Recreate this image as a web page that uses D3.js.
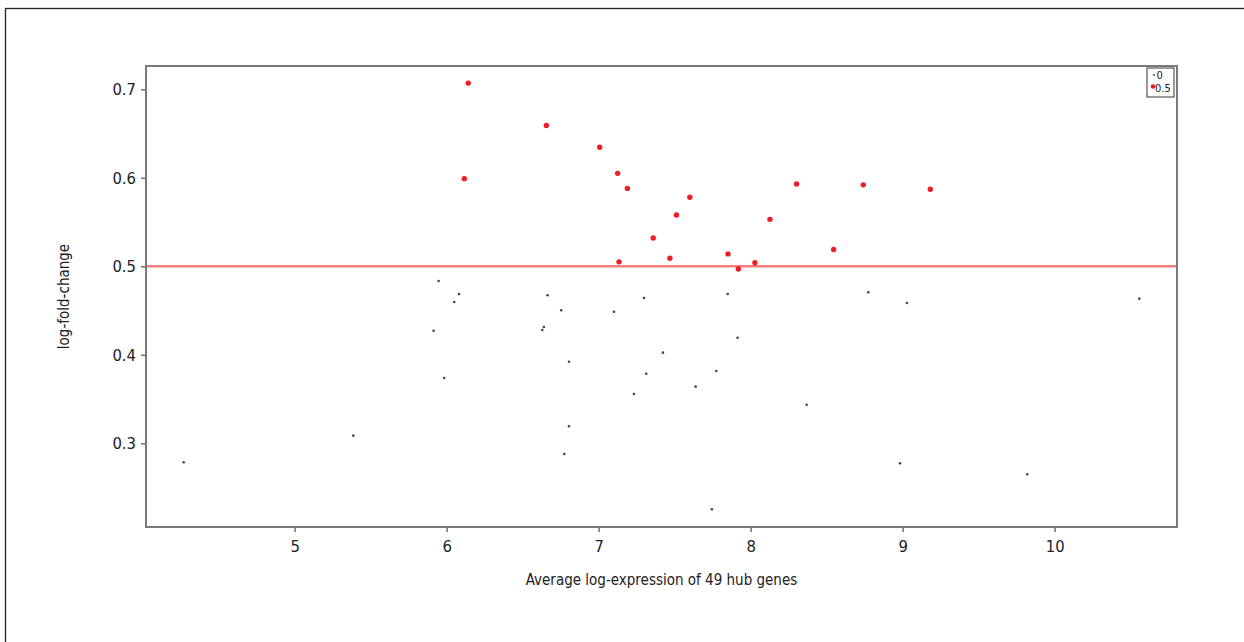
<!DOCTYPE html>
<html>
<head>
<meta charset="utf-8">
<script src="https://cdn.jsdelivr.net/npm/d3@7/dist/d3.min.js"></script>
<style>
html,body{margin:0;padding:0;background:#fff;}
svg{display:block;}
text{font-family:"Liberation Sans Narrow","DejaVu Sans Condensed","Liberation Sans",sans-serif;fill:#222;}
</style>
</head>
<body>
<svg id="chart" width="1244" height="642"></svg>
<script>
// Genes above threshold (group 0.5)
const redX = [6.142,6.656,7.007,6.116,7.125,7.189,7.600,7.512,7.359,7.469,7.134,7.851,7.919,8.028,8.127,8.302,8.546,8.741,9.182];
const redY = [0.707,0.659,0.6345,0.599,0.605,0.588,0.578,0.558,0.532,0.509,0.505,0.514,0.497,0.504,0.553,0.593,0.519,0.592,0.587];
// Genes below threshold (group 0)
const grayX = [4.270,5.386,5.947,5.914,5.984,6.050,6.081,6.629,6.640,6.664,6.754,6.805,6.805,6.774,7.101,7.298,7.313,7.232,7.423,7.638,7.774,7.745,7.849,7.914,8.368,8.774,9.028,8.982,9.820,10.557];
const grayY = [0.2785,0.3086,0.4834,0.4272,0.3738,0.4597,0.4687,0.4280,0.4314,0.4672,0.4503,0.3922,0.3192,0.2879,0.4487,0.4642,0.3786,0.3557,0.4024,0.3640,0.3817,0.2254,0.4687,0.4193,0.3436,0.4706,0.4585,0.2774,0.2650,0.4634];
const xTicks = [5,6,7,8,9,10];
const yTicks = [0.3,0.4,0.5,0.6,0.7];
const threshold = 0.5;
const legendLabels = ["0","0.5"];
const xLabel = "Average log-expression of 49 hub genes";
const yLabel = "log-fold-change";

const svg = d3.select("#chart");
const L = 146, R = 1177, T = 66, B = 527;
const x = d3.scaleLinear().domain([4.022,10.805]).range([L,R]);
const y = d3.scaleLinear().domain([0.2054,0.7263]).range([B,T]);

// outer frame
svg.append("rect").attr("x",5.5).attr("y",8.5).attr("width",1400).attr("height",800)
  .attr("fill","none").attr("stroke","#222").attr("stroke-width",1.3);

// threshold line
svg.append("line").attr("x1",L).attr("x2",R).attr("y1",y(threshold)).attr("y2",y(threshold))
  .attr("stroke","#f37f7f").attr("stroke-width",2.5);

// gray points
svg.append("g").selectAll("circle").data(grayX.map((v,i)=>[v,grayY[i]])).join("circle")
  .attr("cx",d=>x(d[0])).attr("cy",d=>y(d[1])).attr("r",1.3).attr("fill","#444");
// red points
svg.append("g").selectAll("circle").data(redX.map((v,i)=>[v,redY[i]])).join("circle")
  .attr("cx",d=>x(d[0])).attr("cy",d=>y(d[1])).attr("r",2.7).attr("fill","#ee1c24");

// axes
const xAxis = svg.append("g").attr("transform",`translate(0,${B})`)
  .call(d3.axisBottom(x).tickValues(xTicks).tickSize(5).tickPadding(8).tickFormat(d3.format("d")));
const yAxis = svg.append("g").attr("transform",`translate(${L},0)`)
  .call(d3.axisLeft(y).tickValues(yTicks).tickSize(5).tickPadding(5).tickFormat(d3.format(".1f")));
[xAxis,yAxis].forEach(a=>{
  a.select(".domain").remove();
  a.selectAll(".tick line").attr("stroke","#777").attr("stroke-width",1.6);
  a.selectAll(".tick text").attr("font-size",16.5).attr("fill","#222")
   .attr("font-family","'Liberation Sans Narrow','DejaVu Sans Condensed',sans-serif");
});

// plot frame
svg.append("rect").attr("x",L).attr("y",T).attr("width",R-L).attr("height",B-T)
  .attr("fill","none").attr("stroke","#7a7a7a").attr("stroke-width",2);

// legend
const lg = svg.append("g");
lg.append("rect").attr("x",1147).attr("y",68).attr("width",27).attr("height",29)
  .attr("fill","#fff").attr("stroke","#555").attr("stroke-width",1.2);
lg.append("circle").attr("cx",1154).attr("cy",75).attr("r",1).attr("fill","#555");
lg.append("circle").attr("cx",1153).attr("cy",86.5).attr("r",2.3).attr("fill","#ee1c24");
lg.append("text").attr("x",1156.5).attr("y",78.5).attr("font-size",11).text(legendLabels[0]);
lg.append("text").attr("x",1155).attr("y",91.5).attr("font-size",11).text(legendLabels[1]);

// axis titles
svg.append("text").attr("x",(L+R)/2).attr("y",585).attr("text-anchor","middle")
  .attr("font-size",15).text(xLabel);
svg.append("text").attr("transform",`translate(69,${(T+B)/2}) rotate(-90)`)
  .attr("text-anchor","middle").attr("font-size",15).text(yLabel);
</script>
</body>
</html>
